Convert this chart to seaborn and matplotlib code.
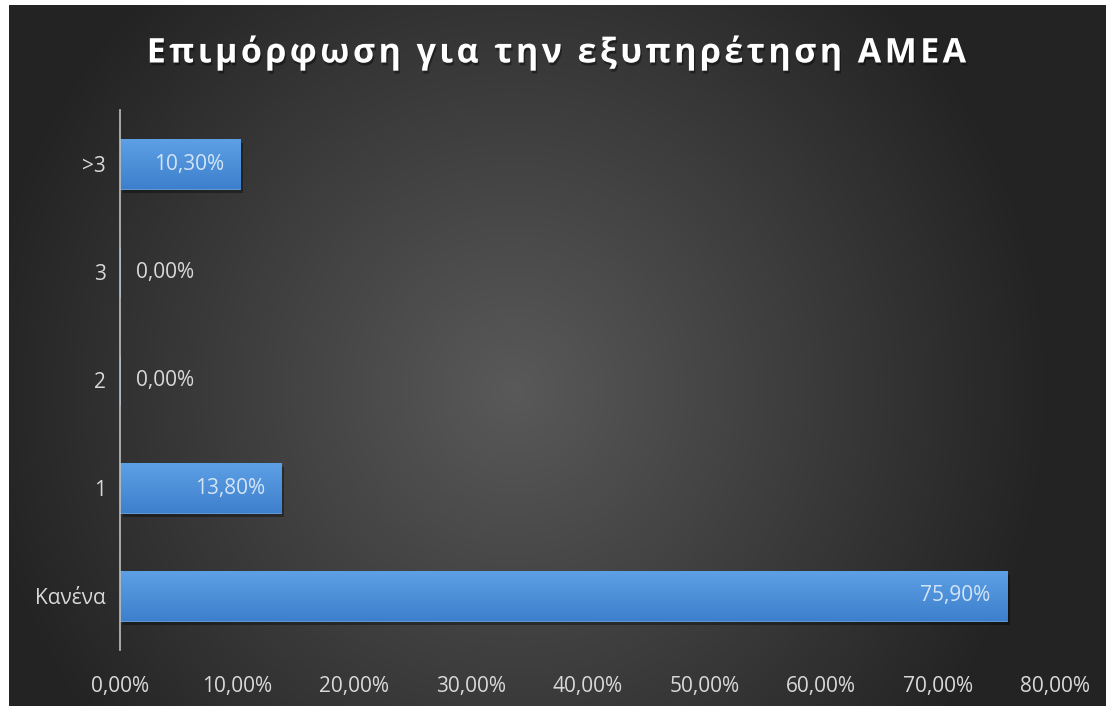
import numpy as np
import pandas as pd
import seaborn as sns
import matplotlib.pyplot as plt
import matplotlib.patheffects as pe
from matplotlib.ticker import FuncFormatter

# Δεδομένα
categories = [">3", "3", "2", "1", "Κανένα"]
values = [10.30, 0.00, 0.00, 13.80, 75.90]
xticks = [0, 10, 20, 30, 40, 50, 60, 70, 80]
title = "Επιμόρφωση για την εξυπηρέτηση ΑΜΕΑ"

df = pd.DataFrame({"cat": categories, "val": values})

sns.set_theme(style="dark")
plt.rcParams['font.family'] = ['Open Sans', 'DejaVu Sans']

fig = plt.figure(figsize=(11.1, 7.06), dpi=100)
fig.patch.set_facecolor("white")

# φόντο με ακτινική διαβάθμιση
bg = fig.add_axes([9 / 1110, 0, 1097 / 1110, 701 / 706])
yy, xx = np.mgrid[0:1:400j, 0:1:600j]
r = np.sqrt(((xx - 0.46) * 1.6) ** 2 + ((yy - 0.55) * 1.0) ** 2)
shade = np.clip(0.35 - 0.27 * r, 0.14, 0.35)
bg.imshow(np.dstack([shade, shade, shade]), aspect="auto", extent=[0, 1, 0, 1])
bg.axis("off")

ax = fig.add_axes([120 / 1110, 56 / 706, 935 / 1110, 540 / 706])
ax.set_facecolor("none")
sns.barplot(data=df, x="val", y="cat", orient="h", color="#4a8fd9",
            width=0.465, ax=ax, saturation=1)

# διαβάθμιση στις μπάρες
grad = np.linspace(0, 1, 64).reshape(-1, 1)
top = np.array([0.37, 0.63, 0.90])
bot = np.array([0.24, 0.50, 0.80])
cols = top + (bot - top) * grad[:, :, None]

for p, v in zip(ax.patches, values):
    p.set_edgecolor("#6aa6e4")
    p.set_linewidth(0.6)
    if v > 0:
        p.set_path_effects([pe.SimplePatchShadow(offset=(2, -3), shadow_rgbFace="black", alpha=0.35),
                            pe.Normal()])
        y0, h = p.get_y(), p.get_height()
        im = ax.imshow(cols, aspect="auto", extent=[0, v, y0 + h, y0], zorder=p.get_zorder() + 0.1)
        im.set_clip_path(p)
    txt = f"{v:.2f}".replace(".", ",") + "%"
    if v > 0:
        ax.text(v - 1.4, p.get_y() + p.get_height() / 2, txt, ha="right",
                va="center", color="#d3e4f6", fontsize=15, zorder=5)
    else:
        ax.text(1.4, p.get_y() + p.get_height() / 2, txt, ha="left",
                va="center", color="#d9d9d9", fontsize=15, zorder=5)

ax.set_xlim(0, 80)
ax.set_ylim(4.5, -0.5)
ax.set_xticks(xticks)
ax.xaxis.set_major_formatter(FuncFormatter(lambda x, _: f"{x:.2f}".replace(".", ",") + "%"))
ax.tick_params(axis="both", colors="#d9d9d9", labelsize=15, length=0)
ax.tick_params(axis="x", pad=19)
ax.tick_params(axis="y", pad=10)
ax.set_xlabel("")
ax.set_ylabel("")
ax.grid(False)
for s in ["top", "right", "bottom"]:
    ax.spines[s].set_visible(False)
ax.spines["left"].set_color("#bfbfbf")
ax.spines["left"].set_linewidth(1.2)
ax.spines["left"].set_zorder(6)

# τίτλος με αραιά γράμματα
spaced = "\u200a".join(title)
fig.text(0.5, 1 - 53 / 706, spaced, ha="center", va="center", color="white",
         fontsize=24.5, fontweight="bold",
         path_effects=[pe.withSimplePatchShadow(offset=(1, -2), shadow_rgbFace="black", alpha=0.4)])

fig.savefig("out.png", dpi=100)
